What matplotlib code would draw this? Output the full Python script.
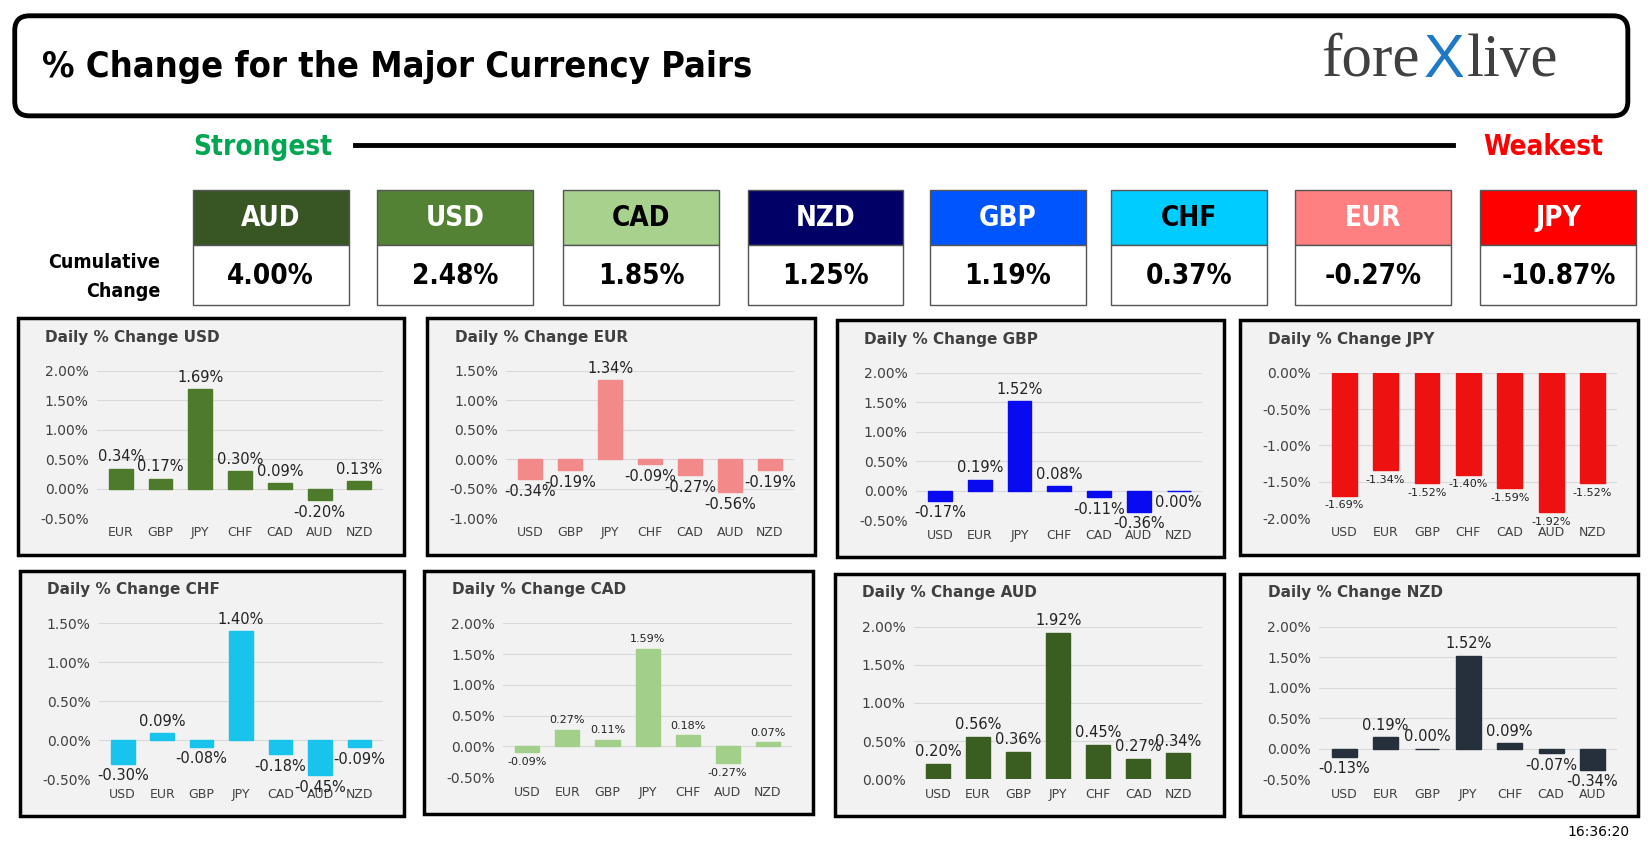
import matplotlib.pyplot as plt
from matplotlib.patches import Rectangle, FancyBboxPatch

W, H = 1568, 809

strength_ccy = ["AUD", "USD", "CAD", "NZD", "GBP", "CHF", "EUR", "JPY"]
strength_val = ["4.00%", "2.48%", "1.85%", "1.25%", "1.19%", "0.37%", "-0.27%", "-10.87%"]
strength_col = ["#375623", "#548235", "#a9d18e", "#000066", "#0055ff", "#00ccff", "#ff8080", "#ff0000"]
strength_txt = ["white", "white", "black", "white", "white", "black", "white", "white"]
strength_x = [183, 358, 535, 710, 883, 1055, 1230, 1406]

usd_cats = ["EUR", "GBP", "JPY", "CHF", "CAD", "AUD", "NZD"]
usd_vals = [0.34, 0.17, 1.69, 0.30, 0.09, -0.20, 0.13]
eur_cats = ["USD", "GBP", "JPY", "CHF", "CAD", "AUD", "NZD"]
eur_vals = [-0.34, -0.19, 1.34, -0.09, -0.27, -0.56, -0.19]
gbp_cats = ["USD", "EUR", "JPY", "CHF", "CAD", "AUD", "NZD"]
gbp_vals = [-0.17, 0.19, 1.52, 0.08, -0.11, -0.36, 0.00]
jpy_cats = ["USD", "EUR", "GBP", "CHF", "CAD", "AUD", "NZD"]
jpy_vals = [-1.69, -1.34, -1.52, -1.40, -1.59, -1.92, -1.52]
chf_cats = ["USD", "EUR", "GBP", "JPY", "CAD", "AUD", "NZD"]
chf_vals = [-0.30, 0.09, -0.08, 1.40, -0.18, -0.45, -0.09]
cad_cats = ["USD", "EUR", "GBP", "JPY", "CHF", "AUD", "NZD"]
cad_vals = [-0.09, 0.27, 0.11, 1.59, 0.18, -0.27, 0.07]
aud_cats = ["USD", "EUR", "GBP", "JPY", "CHF", "CAD", "NZD"]
aud_vals = [0.20, 0.56, 0.36, 1.92, 0.45, 0.27, 0.34]
nzd_cats = ["USD", "EUR", "GBP", "JPY", "CHF", "CAD", "AUD"]
nzd_vals = [-0.13, 0.19, 0.00, 1.52, 0.09, -0.07, -0.34]

panels = [
    ("USD", usd_cats, usd_vals, "#4e7a2c", (-0.5, 2.0), (17, 302, 384, 527), 10.5),
    ("EUR", eur_cats, eur_vals, "#f28a8a", (-1.0, 1.5), (406, 302, 774, 527), 10.5),
    ("GBP", gbp_cats, gbp_vals, "#0a0af0", (-0.5, 2.0), (795, 304, 1162, 529), 10.5),
    ("JPY", jpy_cats, jpy_vals, "#ee1111", (-2.0, 0.0), (1178, 304, 1556, 527), 8),
    ("CHF", chf_cats, chf_vals, "#18c4ec", (-0.5, 1.5), (19, 542, 384, 775), 10.5),
    ("CAD", cad_cats, cad_vals, "#a2d08a", (-0.5, 2.0), (403, 542, 772, 773), 8),
    ("AUD", aud_cats, aud_vals, "#3a5e22", (0.0, 2.0), (793, 545, 1162, 775), 10.5),
    ("NZD", nzd_cats, nzd_vals, "#26303c", (-0.5, 2.0), (1178, 545, 1556, 775), 10.5),
]

COND = dict(family="DejaVu Sans", fontweight="bold", fontstretch="condensed")

fig = plt.figure(figsize=(16.51, 8.52), dpi=100)
bg = fig.add_axes([0, 0, 1, 1])
bg.set_xlim(0, W)
bg.set_ylim(H, 0)
bg.axis("off")

# title box
bg.add_patch(FancyBboxPatch((14, 15), 1532, 95, boxstyle="round,pad=0,rounding_size=14",
                            fc="white", ec="black", lw=3.5))
bg.text(40, 64, "% Change for the Major Currency Pairs", fontsize=26, va="center", **COND)
bg.text(1255, 58, "fore", fontsize=44, family="Liberation Serif", color="#404040", va="center")
bg.text(1352, 58, "X", fontsize=44, family="Liberation Sans", color="#1e7ac8", va="center")
bg.text(1393, 58, "live", fontsize=44, family="Liberation Serif", color="#404040", va="center")

bg.text(250, 140, "Strongest", fontsize=20, color="#00a651", ha="center", va="center", **COND)
bg.text(1466, 140, "Weakest", fontsize=20, color="#ff0000", ha="center", va="center", **COND)
bg.plot([337, 1380], [138, 138], color="black", lw=3.5)
bg.text(152, 249, "Cumulative", fontsize=14, ha="right", va="center", **COND)
bg.text(152, 277, "Change", fontsize=14, ha="right", va="center", **COND)

for x0, ccy, val, col, tc in zip(strength_x, strength_ccy, strength_val, strength_col, strength_txt):
    bg.add_patch(Rectangle((x0, 180), 148, 53, fc=col, ec="#555555", lw=1))
    bg.add_patch(Rectangle((x0, 233), 148, 57, fc="white", ec="#555555", lw=1))
    bg.text(x0 + 74, 207, ccy, fontsize=20, color=tc, ha="center", va="center", **COND)
    bg.text(x0 + 74, 262, val, fontsize=20, ha="center", va="center", **COND)

bg.text(1548, 790, "16:36:20", fontsize=10, ha="right", va="center")

for name, cats, vals, color, (ymin, ymax), (x0, y0, x1, y1), lfs in panels:
    bg.add_patch(Rectangle((x0, y0), x1 - x0, y1 - y0, fc="#f2f2f2", ec="black", lw=2.5))
    bg.text(x0 + 26, y0 + 18, f"Daily % Change {name}", fontsize=11, fontweight="bold",
            color="#404040", va="center")
    ax = fig.add_axes([(x0 + 75) / W, 1 - (y1 - 35) / H,
                       (x1 - x0 - 95) / W, (y1 - y0 - 85) / H])
    ax.set_facecolor("none")
    xs = range(len(cats))
    ax.bar(xs, vals, width=0.6, color=color, edgecolor=color, zorder=3)
    ax.set_ylim(ymin, ymax)
    ax.set_xlim(-0.6, len(cats) - 0.4)
    ticks = [ymin + 0.5 * i for i in range(int(round((ymax - ymin) / 0.5)) + 1)]
    ax.set_yticks(ticks)
    ax.set_yticklabels([f"{t:.2f}%" for t in ticks], fontsize=10, color="#404040")
    ax.set_xticks(list(xs))
    ax.set_xticklabels(cats, fontsize=9, color="#404040")
    ax.tick_params(length=0, pad=6)
    ax.grid(axis="y", color="#d9d9d9", lw=0.8, zorder=0)
    for s in ax.spines.values():
        s.set_visible(False)
    span = ymax - ymin
    for xi, v in zip(xs, vals):
        off = 0.03 * span
        if v > 0 or (v == 0 and name != "GBP"):
            ax.text(xi, v + off, f"{v:.2f}%", ha="center", va="bottom", fontsize=lfs, color="#222222")
        else:
            ax.text(xi, v - off, f"{v:.2f}%", ha="center", va="top", fontsize=lfs, color="#222222")

fig.savefig("out.png", dpi=100)
